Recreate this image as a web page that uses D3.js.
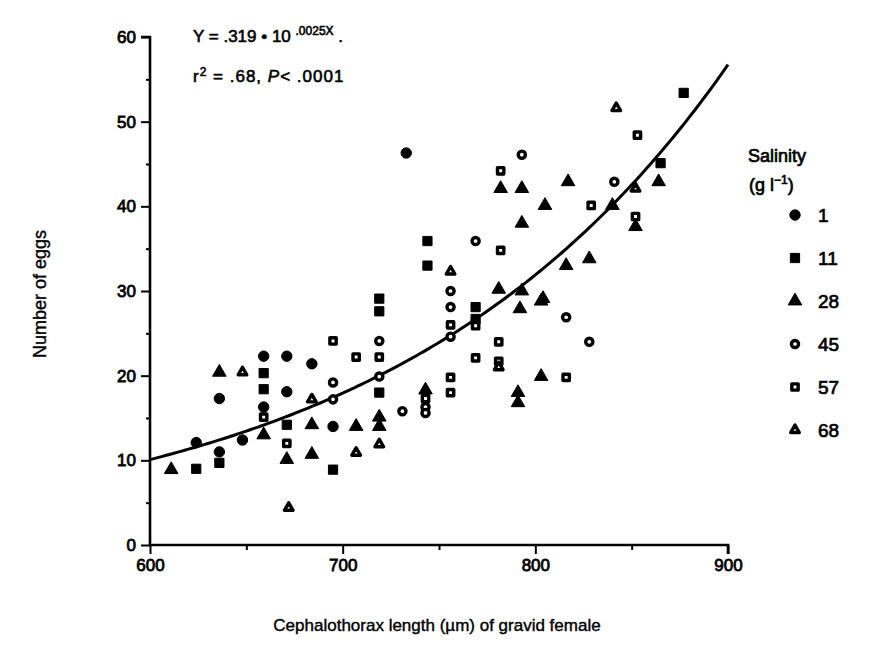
<!DOCTYPE html>
<html>
<head>
<meta charset="utf-8">
<script src="https://cdn.jsdelivr.net/npm/d3@7/dist/d3.min.js"></script>
<style>
  body { margin: 0; background: #fff; }
  text { font-family: "Liberation Sans", Arial, sans-serif; fill: #000; }
</style>
</head>
<body>
<div id="chart"></div>
<script>
// points, [length (um), eggs]
var sal1 = [[624,12.1],[636,17.3],[636,11.0],[648,12.4],[659,22.3],[659,16.3],[671,22.3],[671,18.1],
            [684,21.4],[695,14.0],[733,46.3]];
var sal11 = [[624,9.0],[636,9.7],[659,20.3],[659,18.4],[671,14.2],[695,8.9],[719,29.1],[719,27.6],
             [719,18.0],[744,35.9],[744,33.0],[769,28.1],[769,26.7],[865,45.1],[877,53.4]];
var sal28 = [[611,8.9],[636,20.4],[659,13.0],[671,10.1],[684,14.2],[684,10.7],[707,14.0],[719,15.1],
             [719,14.0],[743,18.3],[782,42.1],[793,42.1],[793,38.0],[781,30.2],[817,42.9],[805,40.1],
             [840,40.1],[864,42.9],[816,33.0],[828,33.8],[804,29.1],[793,30.0],[803,28.8],[803,19.9],
             [791,18.0],[791,16.8],[792,27.9],[852,37.6]];
var sal45 = [[695,19.2],[695,17.2],[719,24.1],[719,19.9],[731,15.8],[743,16.3],[743,15.6],[756,30.0],
             [756,28.1],[756,24.6],[769,35.9],[793,46.1],[841,42.9],[816,26.9],[828,24.0]];
var sal57 = [[659,15.1],[671,12.0],[695,24.1],[707,22.2],[719,22.2],[743,17.3],[756,26.0],[756,19.8],
             [756,18.0],[769,25.9],[769,22.1],[781,24.0],[781,21.7],[782,44.2],[782,34.8],[829,40.1],
             [853,48.4],[852,38.8],[816,19.8]];
var sal68 = [[648,20.4],[672,4.4],[684,17.2],[707,10.9],[719,11.9],[756,32.3],[781,21.0],[842,51.6],
             [852,42.1]];

var salinities = ["1", "11", "28", "45", "57", "68"];
var xTicks = [600, 700, 800, 900];
var yTicks = [0, 10, 20, 30, 40, 50, 60];

// fitted curve Y = .319 * 10^(.0025X)
var fitA = 0.319, fitB = 0.0025;

var W = 875, H = 655;
var svg = d3.select("#chart").append("svg")
    .attr("width", W).attr("height", H);

var x = d3.scaleLinear().domain([600, 900]).range([150, 728]);
var y = d3.scaleLinear().domain([0, 60]).range([545, 37]);

// axes
var yAxis = svg.append("g")
    .attr("transform", "translate(" + x(600) + ",0)")
    .call(d3.axisLeft(y).tickValues(yTicks).tickSize(9).tickPadding(5));
svg.append("g")
    .attr("transform", "translate(" + x(600) + ",0)")
    .call(d3.axisLeft(y).tickValues(d3.range(5, 60, 10)).tickSize(4).tickFormat(""))
    .select(".domain").remove();
var xAxis = svg.append("g")
    .attr("transform", "translate(0," + y(0) + ")")
    .call(d3.axisBottom(x).tickValues(xTicks).tickSize(9).tickPadding(5));
svg.append("g")
    .attr("transform", "translate(0," + y(0) + ")")
    .call(d3.axisBottom(x).tickValues([650, 750, 850]).tickSize(5).tickFormat(""))
    .select(".domain").remove();

svg.selectAll(".domain").attr("stroke", "#000").attr("stroke-width", 2.6);
svg.selectAll(".tick line").attr("stroke", "#000").attr("stroke-width", 2);
svg.selectAll(".tick text")
    .style("font-size", "17px")
    .style("font-family", "'Liberation Sans', Arial, sans-serif")
    .attr("fill", "#000").attr("stroke", "#000").attr("stroke-width", 0.8);
yAxis.select(".domain").attr("d", "M-9," + y(60) + "H0V" + y(0));
xAxis.select(".domain").attr("d", "M" + x(600) + ",0H" + x(900) + "V9");

// fitted line
var curvePts = d3.range(600, 901, 2).map(function (v) { return [v, fitA * Math.pow(10, fitB * v)]; });
svg.append("path")
    .datum(curvePts)
    .attr("fill", "none")
    .attr("stroke", "#000")
    .attr("stroke-width", 3)
    .attr("d", d3.line().x(function (d) { return x(d[0]); }).y(function (d) { return y(d[1]); }));

// marker styles, one per salinity
var styles = {
  "1":  { type: d3.symbolCircle, size: 85, open: false },
  "11": { type: d3.symbolSquare, size: 85, open: false },
  "28": { type: d3.symbolTriangle, size: 80, open: false },
  "45": { type: d3.symbolCircle, size: 40, open: true },
  "57": { type: d3.symbolSquare, size: 40, open: true },
  "68": { type: d3.symbolTriangle, size: 32, open: true }
};
var seriesData = { "1": sal1, "11": sal11, "28": sal28, "45": sal45, "57": sal57, "68": sal68 };

function drawMarker(sel, key) {
  var s = styles[key];
  sel.attr("d", d3.symbol().type(s.type).size(s.size))
    .attr("fill", s.open ? "#fff" : "#000")
    .attr("stroke", "#000")
    .attr("stroke-linejoin", "round")
    .attr("stroke-width", s.open ? 3.4 : 1);
}

salinities.forEach(function (key) {
  svg.append("g").selectAll("path")
    .data(seriesData[key])
    .enter().append("path")
    .attr("transform", function (d) { return "translate(" + x(d[0]) + "," + y(d[1]) + ")"; })
    .call(drawMarker, key);
});

// equation text
var eq = svg.append("text").attr("x", 193).attr("y", 42)
    .style("font-size", "17px").attr("stroke", "#000").attr("stroke-width", 0.6);
eq.append("tspan").text("Y = .319 \u2022 10 ");
eq.append("tspan").attr("dy", -7).style("font-size", "12px").text(".0025X");
eq.append("tspan").attr("dy", 7).text(" .");
var r2 = svg.append("text").attr("x", 193).attr("y", 82)
    .style("font-size", "17px").style("letter-spacing", "1px")
    .attr("stroke", "#000").attr("stroke-width", 0.6);
r2.append("tspan").text("r");
r2.append("tspan").attr("dy", -6).style("font-size", "12px").text("2");
r2.append("tspan").attr("dy", 6).text(" = .68, ");
r2.append("tspan").style("font-style", "italic").text("P");
r2.append("tspan").text("< .0001");

// legend
var legend = svg.append("g");
legend.append("text").attr("x", 748).attr("y", 162).style("font-size", "18px").text("Salinity");
var unit = legend.append("text").attr("x", 749).attr("y", 191).style("font-size", "18px");
unit.append("tspan").text("(g l");
unit.append("tspan").attr("dy", -7).style("font-size", "12px").text("\u22121");
unit.append("tspan").attr("dy", 7).text(")");

var ly = d3.scalePoint().domain(salinities).range([215, 430]);
salinities.forEach(function (key) {
  legend.append("path")
    .attr("transform", "translate(795," + ly(key) + ")")
    .call(drawMarker, key);
  legend.append("text")
    .attr("x", 818).attr("y", ly(key) + 7)
    .style("font-size", "19px")
    .text(key);
});
legend.selectAll("text").attr("stroke", "#000").attr("stroke-width", 0.7);

// axis titles
svg.append("text")
    .attr("transform", "translate(46,294) rotate(-90)")
    .attr("text-anchor", "middle")
    .style("font-size", "18px")
    .attr("stroke", "#000").attr("stroke-width", 0.4)
    .text("Number of eggs");
svg.append("text")
    .attr("x", 437).attr("y", 631)
    .attr("text-anchor", "middle")
    .style("font-size", "17px")
    .attr("stroke", "#000").attr("stroke-width", 0.4)
    .text("Cephalothorax length (\u00b5m) of gravid female");
</script>
</body>
</html>
